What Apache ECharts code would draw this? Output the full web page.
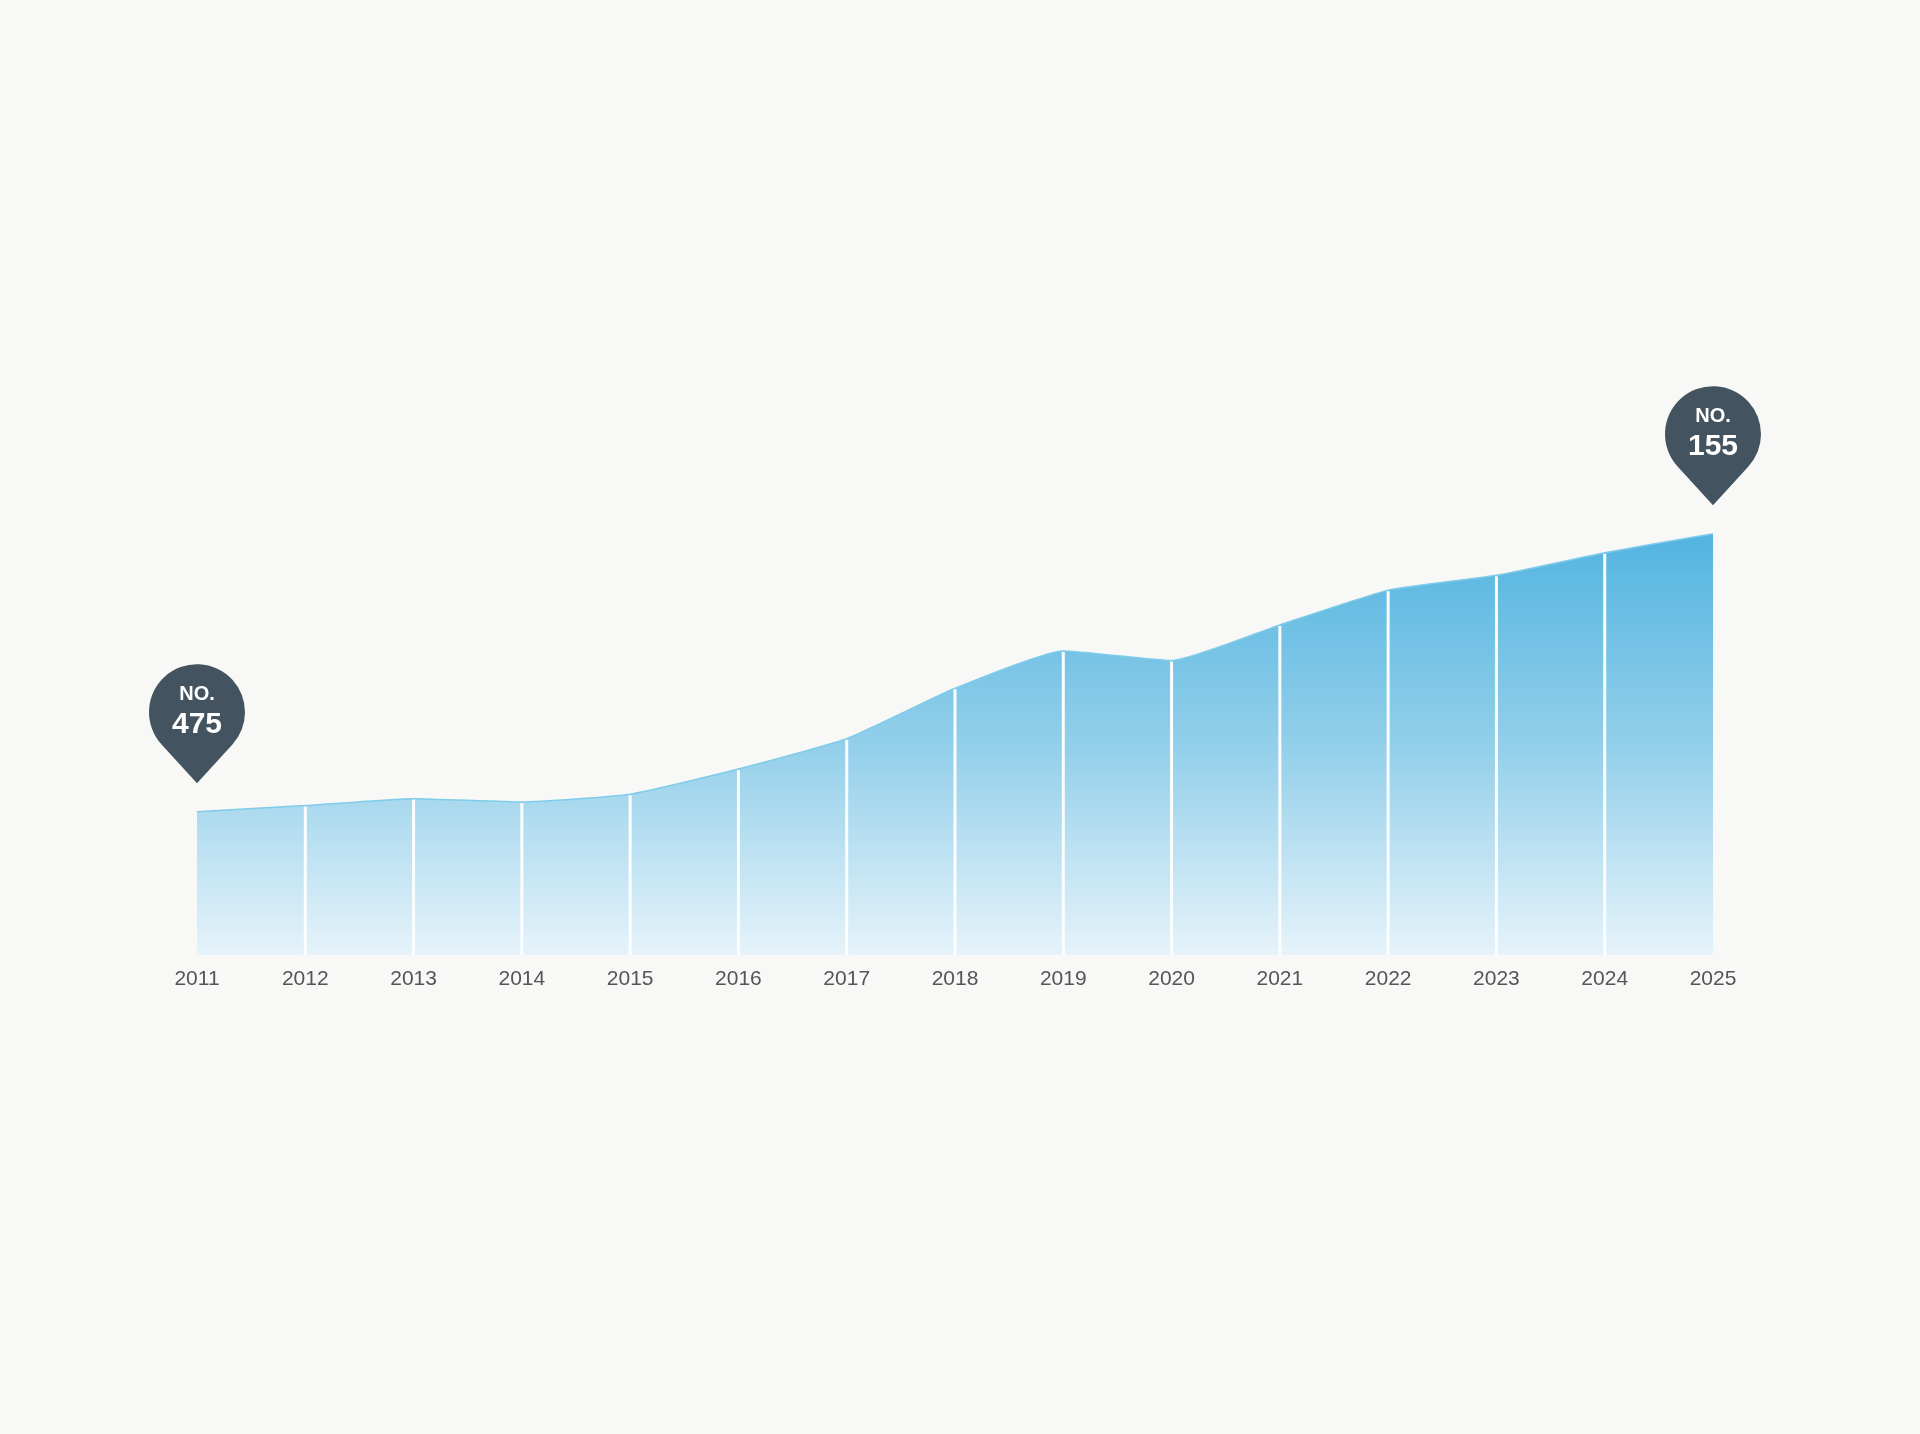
<!DOCTYPE html>
<html>
<head>
<meta charset="utf-8">
<script src="https://cdn.jsdelivr.net/npm/echarts@6/dist/echarts.min.js"></script>
<style>
  html, body { margin: 0; padding: 0; background: #f8f9f7; }
  #chart { width: 1920px; height: 1434px; }
</style>
</head>
<body>
<div id="chart"></div>
<script>
// years on the x axis
var years = ['2011','2012','2013','2014','2015','2016','2017','2018','2019','2020','2021','2022','2023','2024','2025'];
// ranking each year (lower = better)
var ranks = [475, 468, 460, 464, 455, 426, 391, 333, 290, 301, 260, 220, 203, 177, 155];
// the two highlighted ranks
var pinIdx = [0, 14];
var rankMin = 0, rankMax = 640;

var pinPath = 'path://M50,124L13.1,83.8A50,50,0,1,1,86.9,83.8Z';

var chart = echarts.init(document.getElementById('chart'));

var option = {
    backgroundColor: '#f8f9f7',
    animation: false,
    grid: { left: 197, right: 207, top: 399, bottom: 479 },
    xAxis: {
        type: 'category',
        data: years,
        boundaryGap: false,
        axisLine: { show: false },
        axisTick: { show: false },
        splitLine: { show: false },
        axisLabel: {
            color: '#555',
            fontSize: 21,
            fontFamily: '"Liberation Sans", Arial, sans-serif',
            margin: 14
        }
    },
    yAxis: {
        type: 'value',
        inverse: true,
        min: rankMin,
        max: rankMax,
        show: false
    },
    series: [{
        type: 'line',
        data: ranks,
        smooth: 0.15,
        symbol: 'none',
        z: 2,
        lineStyle: { width: 1.5, color: '#7fcbea' },
        areaStyle: {
            origin: 'end',
            opacity: 1,
            color: new echarts.graphic.LinearGradient(0, 0, 0, 1, [
                { offset: 0, color: '#53b4e0' },
                { offset: 0.5, color: '#92cfea' },
                { offset: 1, color: '#e6f3fa' }
            ])
        },
        markPoint: {
            symbol: pinPath,
            symbolSize: [96, 119],
            symbolOffset: [0, -88],
            itemStyle: { color: '#435460' },
            label: {
                show: true,
                position: 'inside',
                offset: [0, -12],
                formatter: function (p) {
                    return '{a|NO.}\n{b|' + p.value + '}';
                },
                rich: {
                    a: { color: '#fff', fontSize: 20, fontWeight: 'bold', fontFamily: '"Liberation Sans", Arial, sans-serif', lineHeight: 26 },
                    b: { color: '#fff', fontSize: 30, fontWeight: 'bold', fontFamily: '"Liberation Sans", Arial, sans-serif', lineHeight: 34 }
                }
            },
            data: pinIdx.map(function (i) {
                return { coord: [i, ranks[i]], value: ranks[i] };
            })
        }
    }, {
        // white separators between years
        type: 'custom',
        z: 3,
        data: ranks.map(function (v, i) { return [i, v]; }),
        renderItem: function (params, api) {
            var i = api.value(0);
            if (i === 0 || i === years.length - 1) return;
            var top = api.coord([i, api.value(1)]);
            var bot = api.coord([i, rankMax]);
            return {
                type: 'line',
                shape: { x1: top[0], y1: top[1] + 1, x2: bot[0], y2: bot[1] },
                style: { stroke: '#fbfeff', lineWidth: 3 }
            };
        }
    }]
};

chart.setOption(option);
</script>
</body>
</html>
